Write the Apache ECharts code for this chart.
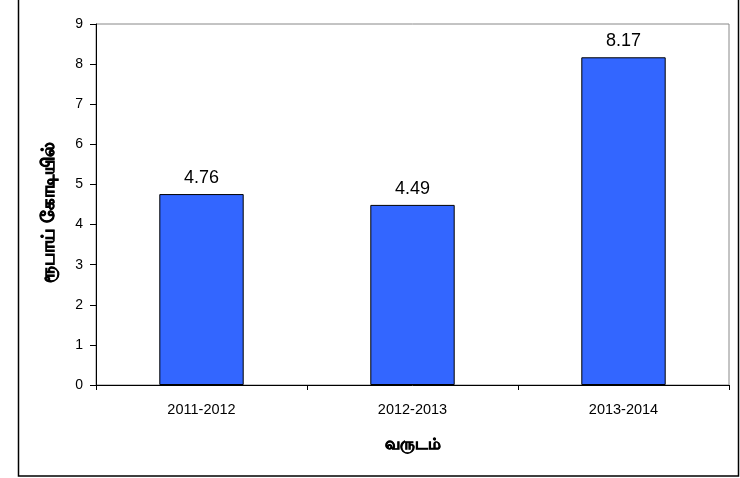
<!DOCTYPE html>
<html>
<head>
<meta charset="utf-8">
<script src="https://cdn.jsdelivr.net/npm/echarts@6/dist/echarts.min.js"></script>
<style>
html, body { margin: 0; padding: 0; background: #fff; }
#main { width: 740px; height: 478px; }
</style>
</head>
<body>
<div id="main"></div>
<script>
var years = ['2011-2012', '2012-2013', '2013-2014'];
var values = [4.76, 4.49, 8.17];
var yTitle = 'ரூபாய் கோடியில்';
var xTitle = 'வருடம்';

var font = '"Liberation Sans", Arial, sans-serif';
var chart = echarts.init(document.getElementById('main'));
var option = {
    animation: false,
    backgroundColor: '#fff',
    textStyle: { fontFamily: font },
    graphic: [
        {
            type: 'rect',
            shape: { x: 18.5, y: -5, width: 720, height: 481 },
            style: { fill: 'none', stroke: '#000', lineWidth: 1.5 },
            silent: true
        },
        {
            type: 'rect',
            shape: { x: 96, y: 24, width: 633, height: 361 },
            style: { fill: 'none', stroke: '#888', lineWidth: 1 },
            silent: true,
            z: -1
        }
    ],
    grid: { left: 96, top: 24, width: 633, height: 361 },
    xAxis: {
        type: 'category',
        data: years,
        name: xTitle,
        nameLocation: 'middle',
        nameGap: 52,
        nameTextStyle: {
            fontSize: 16, fontWeight: 'bold', color: '#000',
            textBorderColor: '#000', textBorderWidth: 0.7
        },
        axisLine: { lineStyle: { color: '#000', width: 1 } },
        axisTick: { show: true, length: 5, inside: false, lineStyle: { color: '#000' } },
        axisLabel: { fontSize: 14.5, color: '#000', margin: 17 }
    },
    yAxis: {
        type: 'value',
        min: 0,
        max: 9,
        interval: 1,
        name: yTitle,
        nameLocation: 'middle',
        nameGap: 38,
        nameTextStyle: {
            fontSize: 18, fontWeight: 'bold', color: '#000',
            textBorderColor: '#000', textBorderWidth: 0.7,
            padding: [0, 16, 0, 0]
        },
        axisLine: { show: true, lineStyle: { color: '#000', width: 1 } },
        axisTick: { show: true, length: 6, lineStyle: { color: '#000' } },
        axisLabel: { fontSize: 14, color: '#000', margin: 13 },
        splitLine: { show: false }
    },
    series: [
        {
            type: 'bar',
            data: values,
            barWidth: '40%',
            itemStyle: { color: '#3366FF', borderColor: '#000', borderWidth: 1 },
            label: {
                show: true,
                position: 'top',
                distance: 7,
                fontSize: 18,
                color: '#000',
                formatter: function (p) { return p.value.toFixed(2); }
            }
        }
    ]
};
chart.setOption(option);
</script>
</body>
</html>
